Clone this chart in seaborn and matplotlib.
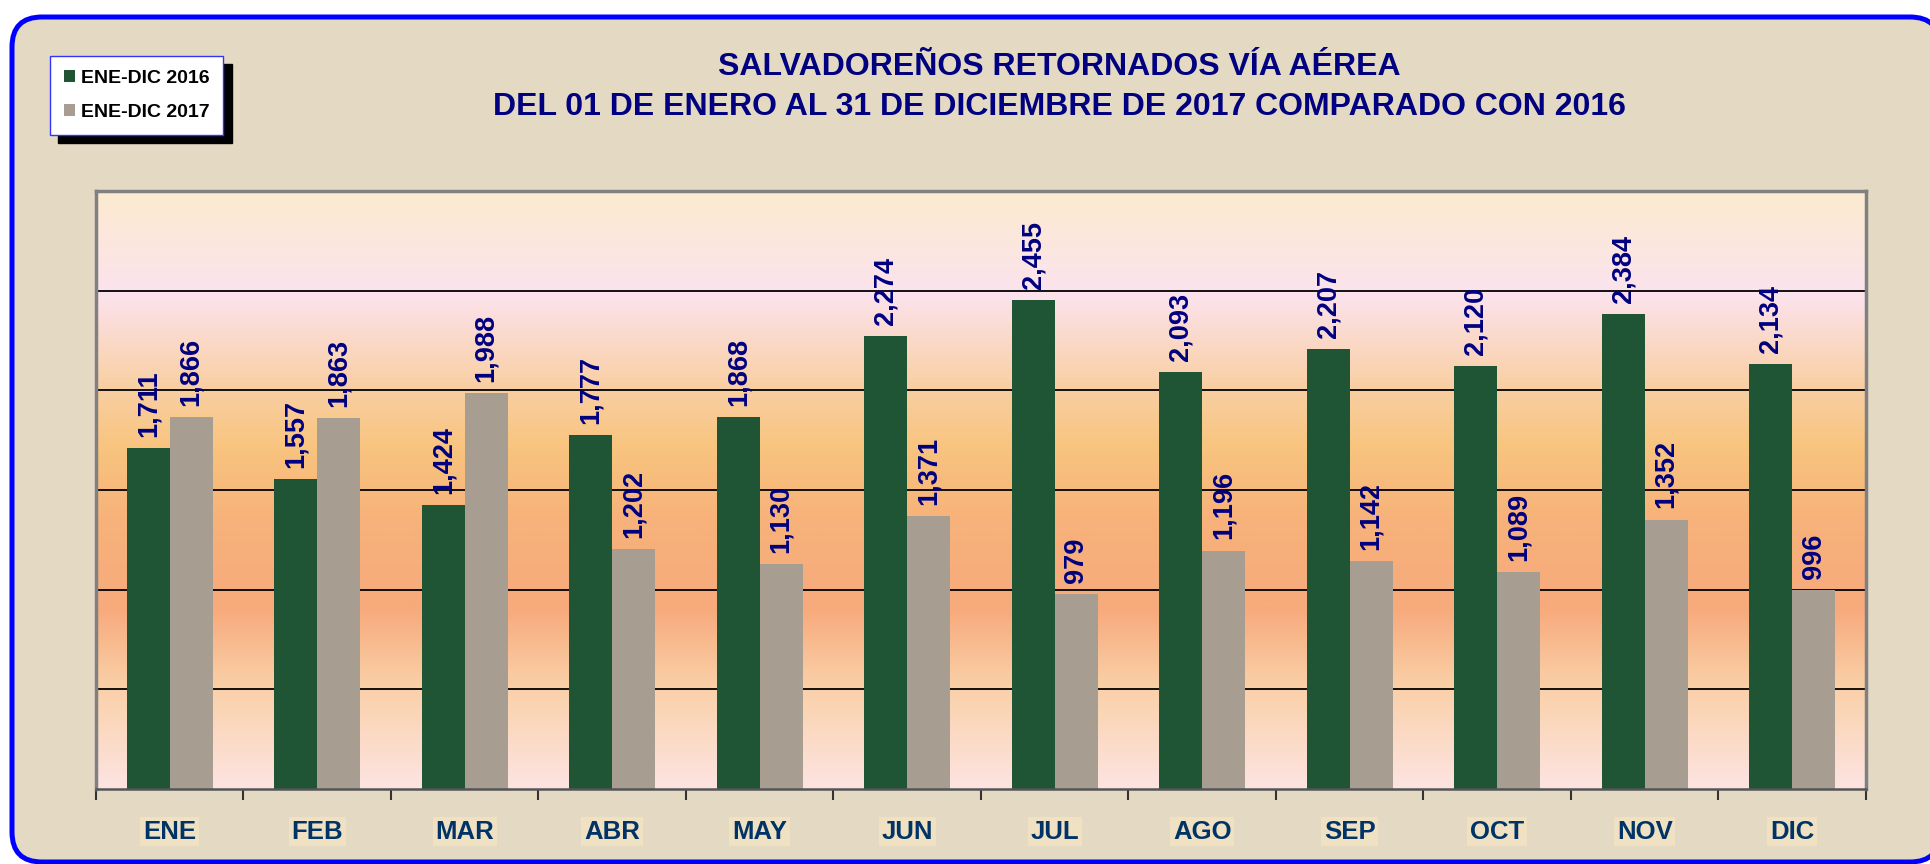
import matplotlib
matplotlib.use("Agg")
import matplotlib.pyplot as plt
import numpy as np
import pandas as pd
import seaborn as sns
from matplotlib.colors import LinearSegmentedColormap
from matplotlib.patches import FancyBboxPatch

meses = ["ENE", "FEB", "MAR", "ABR", "MAY", "JUN", "JUL", "AGO", "SEP", "OCT", "NOV", "DIC"]
ene_dic_2016 = [1711, 1557, 1424, 1777, 1868, 2274, 2455, 2093, 2207, 2120, 2384, 2134]
ene_dic_2017 = [1866, 1863, 1988, 1202, 1130, 1371, 979, 1196, 1142, 1089, 1352, 996]
series = ["ENE-DIC 2016", "ENE-DIC 2017"]
titulo = "SALVADOREÑOS RETORNADOS VÍA AÉREA\nDEL 01 DE ENERO AL 31 DE DICIEMBRE DE 2017 COMPARADO CON 2016"

df = pd.DataFrame({
    "mes": meses * 2,
    "serie": [series[0]] * 12 + [series[1]] * 12,
    "valor": ene_dic_2016 + ene_dic_2017,
})

plt.rcParams["font.family"] = ["Liberation Sans", "DejaVu Sans"]

W, H = 1931, 864
fig = plt.figure(figsize=(W / 100, H / 100), dpi=100)
fig.patch.set_facecolor("white")

# outer rounded frame
bg = fig.add_axes([0, 0, 1, 1], zorder=-1)
bg.set_xlim(0, W)
bg.set_ylim(H, 0)
bg.axis("off")
bg.add_patch(FancyBboxPatch((12, 17), 1928, 845, boxstyle="round,pad=0,rounding_size=30",
                            facecolor="#E4DAC4", edgecolor="#0000FF", lw=3.6))

ax = fig.add_axes([96 / W, 75 / H, 1770 / W, 598 / H])

# gradient plot area
grad = LinearSegmentedColormap.from_list("fondo", [
    (0.0, "#FDE4E2"),
    (0.17, "#FAD0A8"),
    (0.30, "#F7AA7C"),
    (0.45, "#F7B27A"),
    (0.57, "#F8C47E"),
    (0.68, "#F9D0A6"),
    (0.83, "#FCE3EE"),
    (1.0, "#FBEBCF"),
])
ax.imshow(np.linspace(0, 1, 256).reshape(-1, 1), cmap=grad, origin="lower",
          extent=[-0.5, 11.5, 0, 3000], aspect="auto", zorder=0)
for yv in [500, 1000, 1500, 2000, 2500]:
    ax.axhline(yv, color="black", lw=1.3, zorder=0.5)

sns.barplot(data=df, x="mes", y="valor", hue="serie", order=meses, hue_order=series,
            palette=["#1F5434", "#A89D91"], width=0.58, gap=0, saturation=1,
            edgecolor="none", ax=ax, zorder=2, legend=True)

for cont in ax.containers:
    ax.bar_label(cont, labels=[f"{v.get_height():,.0f}" for v in cont], rotation=90,
                 padding=8, color="#000080", fontsize=19.5, fontweight="bold")

ax.set_xlim(-0.5, 11.5)
ax.set_ylim(0, 3000)
ax.set_yticks([])
ax.set_xlabel("")
ax.set_ylabel("")
ax.set_xticks(range(12))
ax.set_xticklabels(meses)
ax.set_xticks(np.arange(-0.5, 12, 1), minor=True)
ax.tick_params(axis="x", which="major", length=0, pad=22)
ax.tick_params(axis="x", which="minor", length=8, width=1.5, color="#333333", direction="out")
for lab in ax.get_xticklabels():
    lab.set_fontsize(18.5)
    lab.set_fontweight("bold")
    lab.set_color("#003366")
    lab.set_bbox(dict(facecolor="#EFE1C2", edgecolor="none", pad=2))

for side in ["left", "top", "right"]:
    ax.spines[side].set_color("#808080")
    ax.spines[side].set_linewidth(2.5)
ax.spines["bottom"].set_color("#555555")
ax.spines["bottom"].set_linewidth(1.8)

handles, labels = ax.get_legend_handles_labels()
ax.legend(handles, labels, loc="upper left", bbox_to_anchor=(50 / W, 1 - 56 / H),
          bbox_transform=fig.transFigure, borderaxespad=0, frameon=True, fancybox=False,
          edgecolor="#3333FF", facecolor="white", framealpha=1,
          shadow={"ox": 6, "oy": -6, "color": "black", "alpha": 1},
          prop={"weight": "bold", "size": 14}, handlelength=0.6, handleheight=0.6,
          handletextpad=0.3, labelspacing=0.9, borderpad=0.7)

fig.text(1059 / W, 1 - 87 / H, titulo, ha="center", va="center", fontsize=23,
         fontweight="bold", color="#000080", linespacing=1.45)

fig.savefig("out.png", dpi=100)
